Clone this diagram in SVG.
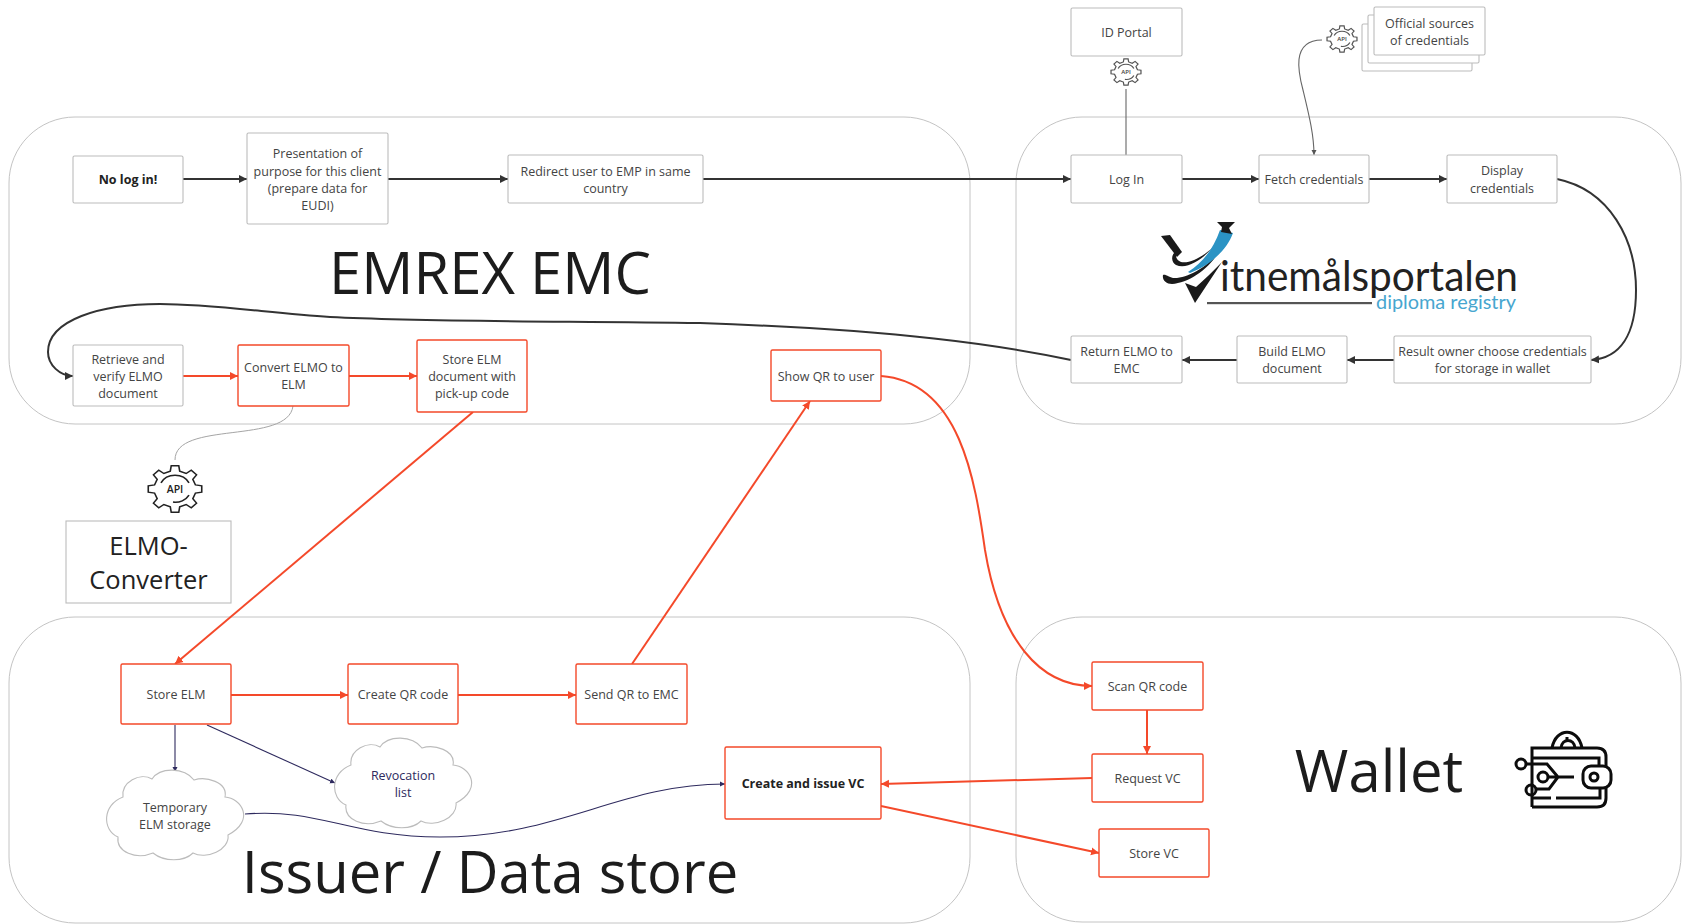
<svg xmlns="http://www.w3.org/2000/svg" width="1691" height="924" viewBox="0 0 1691 924">
<style>
text{font-family:"Open Sans","Noto Sans","Liberation Sans",sans-serif;text-anchor:middle;fill:#444;font-size:12.5px}
.c{fill:none;stroke:#c4c4c4;stroke-width:1}
.b{fill:#fff;stroke:#bcbcbc;stroke-width:1.100}
.r{fill:#fff;stroke:#f4492a;stroke-width:1.400}
.big{fill:#1c1c1c;font-size:58px}
.k{fill:none;stroke:#333;stroke-width:2}
.o{fill:none;stroke:#f4492a;stroke-width:2}
.n{fill:none;stroke:#2e2a5e;stroke-width:1.100}
.g{fill:none;stroke:#a5a5a5;stroke-width:1}
.d{fill:none;stroke:#666;stroke-width:1.100}
.gear{fill:none;stroke:#222;stroke-width:1.600}
.w{fill:none;stroke:#0c0c0c;stroke-width:3}
.lg{font-family:Lato,"Open Sans",sans-serif;font-weight:400}
</style>
<defs>
<marker id="mk" markerUnits="userSpaceOnUse" markerWidth="9" markerHeight="9" refX="8" refY="4.500" orient="auto"><path d="M0 .5L8 4.500L0 8.500z" fill="#333"/></marker>
<marker id="mo" markerUnits="userSpaceOnUse" markerWidth="9" markerHeight="9" refX="8" refY="4.500" orient="auto"><path d="M0 .5L8 4.500L0 8.500z" fill="#f4492a"/></marker>
<marker id="mn" markerUnits="userSpaceOnUse" markerWidth="6" markerHeight="6" refX="5" refY="3" orient="auto"><path d="M0 .5L5 3L0 5.500z" fill="#2e2a5e"/></marker>
<marker id="md" markerUnits="userSpaceOnUse" markerWidth="6" markerHeight="6" refX="5" refY="3" orient="auto"><path d="M0 .5L5 3L0 5.500z" fill="#555"/></marker>
<g id="gearshape">
<path d="M20.46 -4.72L26.74 -3.76L26.74 3.76L20.46 4.72L17.81 11.13L21.56 16.25L16.25 21.56L11.13 17.81L4.72 20.46L3.76 26.74L-3.76 26.74L-4.72 20.46L-11.13 17.81L-16.25 21.56L-21.56 16.25L-17.81 11.13L-20.46 4.72L-26.74 3.76L-26.74 -3.76L-20.46 -4.72L-17.81 -11.13L-21.56 -16.25L-16.25 -21.56L-11.13 -17.81L-4.72 -20.46L-3.76 -26.74L3.76 -26.74L4.72 -20.46L11.13 -17.81L16.25 -21.56L21.56 -16.25L17.81 -11.13Z"/>
<path d="M-14 -7A15.500 15.500 0 0 1 14 -7M14 7A15.500 15.500 0 0 1 -2 15"/>
</g>
<path id="cloud" d="M46 9C54 -3 78 -3 88 10C100 6 122 12 119 27C135 28 150 50 122 65C124 80 100 90 87 83C78 92 58 92 47 83C30 90 10 82 12 67C-4 60 -4 35 17 27C15 12 34 2 46 9Z"/>
</defs>
<rect width="1691" height="924" fill="#fff"/>

<g id="containers">
<rect id="emrex" class="c" x="9" y="117" width="961" height="307" rx="66"/>
<rect id="vitnemal" class="c" x="1016" y="117" width="665" height="307" rx="66"/>
<rect id="issuer" class="c" x="9" y="617" width="961" height="306" rx="66"/>
<rect id="wallet" class="c" x="1016" y="617" width="665" height="305" rx="66"/>
<text class="big" x="490" y="294">EMREX EMC</text>
<text class="big" x="490" y="893">Issuer / Data store</text>
<text class="big" x="1379" y="792">Wallet</text>
</g>

<g id="connectors">
<path class="k" marker-end="url(#mk)" d="M183 179H247"/>
<path class="k" marker-end="url(#mk)" d="M388 179H508"/>
<path class="k" marker-end="url(#mk)" d="M703 179H1071"/>
<path class="k" marker-end="url(#mk)" d="M1182 179H1259"/>
<path class="k" marker-end="url(#mk)" d="M1369 179H1447"/>
<path class="k" marker-end="url(#mk)" d="M1557 179C1610 190 1636 240 1636 290C1636 335 1620 358 1591 360"/>
<path class="k" marker-end="url(#mk)" d="M1394 360H1347"/>
<path class="k" marker-end="url(#mk)" d="M1237 360H1182"/>
<path class="k" marker-end="url(#mk)" d="M1071 360C1000 345 900 330 700 323C560 321 430 322 330 317C270 313 210 304 160 304C100 304 48 320 48 352C48 365 60 376 73 376"/>
<path class="o" marker-end="url(#mo)" d="M183 376H238"/>
<path class="o" marker-end="url(#mo)" d="M349 376H417"/>
<path class="o" marker-end="url(#mo)" d="M473 412L175 664"/>
<path class="o" marker-end="url(#mo)" d="M231 695H348"/>
<path class="o" marker-end="url(#mo)" d="M458 695H576"/>
<path class="o" marker-end="url(#mo)" d="M632 664L810 401"/>
<path class="o" marker-end="url(#mo)" d="M881 376C960 382 975 480 985 550C1000 640 1040 686 1092 686"/>
<path class="o" marker-end="url(#mo)" d="M1147 710V754"/>
<path class="o" marker-end="url(#mo)" d="M1092 778L881 784"/>
<path class="o" marker-end="url(#mo)" d="M881 806L1099 853"/>
<path class="n" marker-end="url(#mn)" d="M175 725V772"/>
<path class="n" marker-end="url(#mn)" d="M207 725L335 783"/>
<path class="n" marker-end="url(#mn)" d="M245 814C320 808 350 837 440 837C560 837 620 784 725 784"/>
<path class="g" d="M293 406C288 445 175 420 175 460"/>
<path class="d" d="M1126 155V89"/>
<path class="d" marker-end="url(#md)" d="M1322 40C1290 40 1299 75 1303 90C1309 115 1314 135 1314 155"/>
</g>

<g id="id-portal"><rect class="b" x="1071" y="8" width="111" height="48" rx="1.500"/><text x="1126.500" y="37">ID Portal</text></g>
<g id="official-sources">
<rect class="b" x="1362" y="24" width="110" height="47" rx="1.500"/>
<rect class="b" x="1368" y="15" width="111" height="48" rx="1.500"/>
<rect class="b" x="1374" y="7" width="111" height="48" rx="1.500"/>
<text x="1429.500" y="28">Official sources</text><text x="1429.500" y="45">of credentials</text>
</g>
<g id="node-no-log-in"><rect class="b" x="73" y="156" width="110" height="47" rx="1.500"/><text x="128" y="184" style="font-weight:700;fill:#222">No log in!</text></g>
<g id="node-presentation"><rect class="b" x="247" y="133" width="141" height="91" rx="1.500"/><text x="317.500" y="158">Presentation of</text><text x="317.500" y="176">purpose for this client</text><text x="317.500" y="193">(prepare data for</text><text x="317.500" y="210">EUDI)</text></g>
<g id="node-redirect"><rect class="b" x="508" y="155" width="195" height="48" rx="1.500"/><text x="605.500" y="176">Redirect user to EMP in same</text><text x="605.500" y="193">country</text></g>
<g id="node-login"><rect class="b" x="1071" y="155" width="111" height="48" rx="1.500"/><text x="1126.500" y="184">Log In</text></g>
<g id="node-fetch"><rect class="b" x="1259" y="155" width="110" height="48" rx="1.500"/><text x="1314" y="184">Fetch credentials</text></g>
<g id="node-display"><rect class="b" x="1447" y="155" width="110" height="48" rx="1.500"/><text x="1502" y="175">Display</text><text x="1502" y="193">credentials</text></g>
<g id="node-result"><rect class="b" x="1394" y="336" width="197" height="47" rx="1.500"/><text x="1492.500" y="356">Result owner choose credentials</text><text x="1492.500" y="373">for storage in wallet</text></g>
<g id="node-build"><rect class="b" x="1237" y="336" width="110" height="47" rx="1.500"/><text x="1292" y="356">Build ELMO</text><text x="1292" y="373">document</text></g>
<g id="node-return"><rect class="b" x="1071" y="336" width="111" height="47" rx="1.500"/><text x="1126.500" y="356">Return ELMO to</text><text x="1126.500" y="373">EMC</text></g>
<g id="node-retrieve"><rect class="b" x="73" y="345" width="110" height="61" rx="1.500"/><text x="128" y="364">Retrieve and</text><text x="128" y="381">verify ELMO</text><text x="128" y="398">document</text></g>
<g id="node-convert"><rect class="r" x="238" y="345" width="111" height="61" rx="1.500"/><text x="293.500" y="372">Convert ELMO to</text><text x="293.500" y="389">ELM</text></g>
<g id="node-store-elm-doc"><rect class="r" x="417" y="340" width="110" height="72" rx="1.500"/><text x="472" y="364">Store ELM</text><text x="472" y="381">document with</text><text x="472" y="398">pick-up code</text></g>
<g id="node-show-qr"><rect class="r" x="771" y="350" width="110" height="51" rx="1.500"/><text x="826" y="381">Show QR to user</text></g>
<g id="node-elmo-converter"><rect class="b" x="66" y="521" width="165" height="82"/><text x="148.500" y="555" style="font-size:25.500px;fill:#222">ELMO-</text><text x="148.500" y="589" style="font-size:25.500px;fill:#222">Converter</text></g>
<g id="node-store-elm"><rect class="r" x="121" y="664" width="110" height="60" rx="1.500"/><text x="176" y="699">Store ELM</text></g>
<g id="node-create-qr"><rect class="r" x="348" y="664" width="110" height="60" rx="1.500"/><text x="403" y="699">Create QR code</text></g>
<g id="node-send-qr"><rect class="r" x="576" y="664" width="111" height="60" rx="1.500"/><text x="631.500" y="699">Send QR to EMC</text></g>
<g id="node-create-vc"><rect class="r" x="725" y="747" width="156" height="72" rx="1.500"/><text x="803" y="788" style="font-weight:700;fill:#222">Create and issue VC</text></g>
<g id="node-scan"><rect class="r" x="1092" y="662" width="111" height="48" rx="1.500"/><text x="1147.500" y="691">Scan QR code</text></g>
<g id="node-request"><rect class="r" x="1092" y="754" width="111" height="48" rx="1.500"/><text x="1147.500" y="783">Request VC</text></g>
<g id="node-store-vc"><rect class="r" x="1099" y="829" width="110" height="48" rx="1.500"/><text x="1154" y="858">Store VC</text></g>
<g id="node-temp-storage"><use href="#cloud" x="106" y="770" class="b"/><text x="175" y="812">Temporary</text><text x="175" y="829">ELM storage</text></g>
<g id="node-revocation"><use href="#cloud" x="334" y="738" class="b"/><text x="403" y="780" style="fill:#2e2a5e">Revocation</text><text x="403" y="797" style="fill:#2e2a5e">list</text></g>

<g id="gear-converter"><use href="#gearshape" class="gear" transform="translate(175 489) scale(1 .87)"/><text x="175" y="493" style="font-size:10.500px;font-weight:600;fill:#222">API</text></g>
<g id="gear-id"><use href="#gearshape" class="gear" style="stroke-width:2.200;stroke:#555" transform="translate(1126 72) scale(.56 .49)"/><text x="1126" y="74" style="font-size:6px;font-weight:600">API</text></g>
<g id="gear-sources"><use href="#gearshape" class="gear" style="stroke-width:2.200;stroke:#555" transform="translate(1342 39) scale(.56 .49)"/><text x="1342" y="41" style="font-size:6px;font-weight:600">API</text></g>

<g id="logo-vitnemalsportalen">
<path d="M1161 236L1170 235L1182 252L1177 257Z" fill="#1a1a1a"/>
<path d="M1178 250C1170 254 1171 262 1176 265C1188 270 1204 258 1213 247C1204 256 1190 264 1181 262C1175 260 1175 254 1178 250Z" fill="#1a1a1a"/>
<path d="M1163 275C1162 280 1166 284 1172 284C1188 283 1208 270 1218 253C1206 268 1186 279 1173 278C1168 277 1166 274 1163 275Z" fill="#1a1a1a"/>
<path d="M1185 283L1195 303L1222 262C1212 272 1204 280 1196 287Z" fill="#1a1a1a"/>
<path d="M1188 272C1202 263 1213 250 1220 230L1233 233C1226 252 1208 266 1190 273Z" fill="#2b93c4"/>
<path d="M1217 222L1235 222L1229 228L1232 234L1221 232L1222 227Z" fill="#1a1a1a"/>
<rect x="1207" y="302" width="165" height="2.200" fill="#555"/>
<text class="lg" x="1369" y="291" textLength="298" lengthAdjust="spacingAndGlyphs" style="font-size:42px;fill:#222">itnemålsportalen</text>
<text class="lg" x="1446" y="309" textLength="140" lengthAdjust="spacingAndGlyphs" style="font-size:20px;fill:#47a6cf">diploma registry</text>
</g>

<g id="icon-wallet">
<path class="w" d="M1532 807V748H1597Q1606 748 1606 757V766"/>
<path class="w" d="M1532 758H1599V766"/>
<path class="w" d="M1532 807H1597Q1606 807 1606 798V788"/>
<path class="w" d="M1532 798H1551M1556 798H1600V788"/>
<path class="w" d="M1552 748C1556 727 1578 727 1582 748"/>
<path class="w" d="M1561 748C1562 738 1574 738 1575 748M1567 737V741"/>
<rect class="w" x="1583" y="766" width="28" height="22" rx="8"/>
<circle class="w" cx="1594" cy="777" r="4"/>
<circle class="w" cx="1521" cy="764" r="5"/>
<circle class="w" cx="1531" cy="790" r="5"/>
<circle class="w" cx="1543" cy="777" r="5"/>
<path class="w" d="M1526 764H1547L1558 777L1549 789H1536M1548 777H1574"/>
</g>
</svg>
